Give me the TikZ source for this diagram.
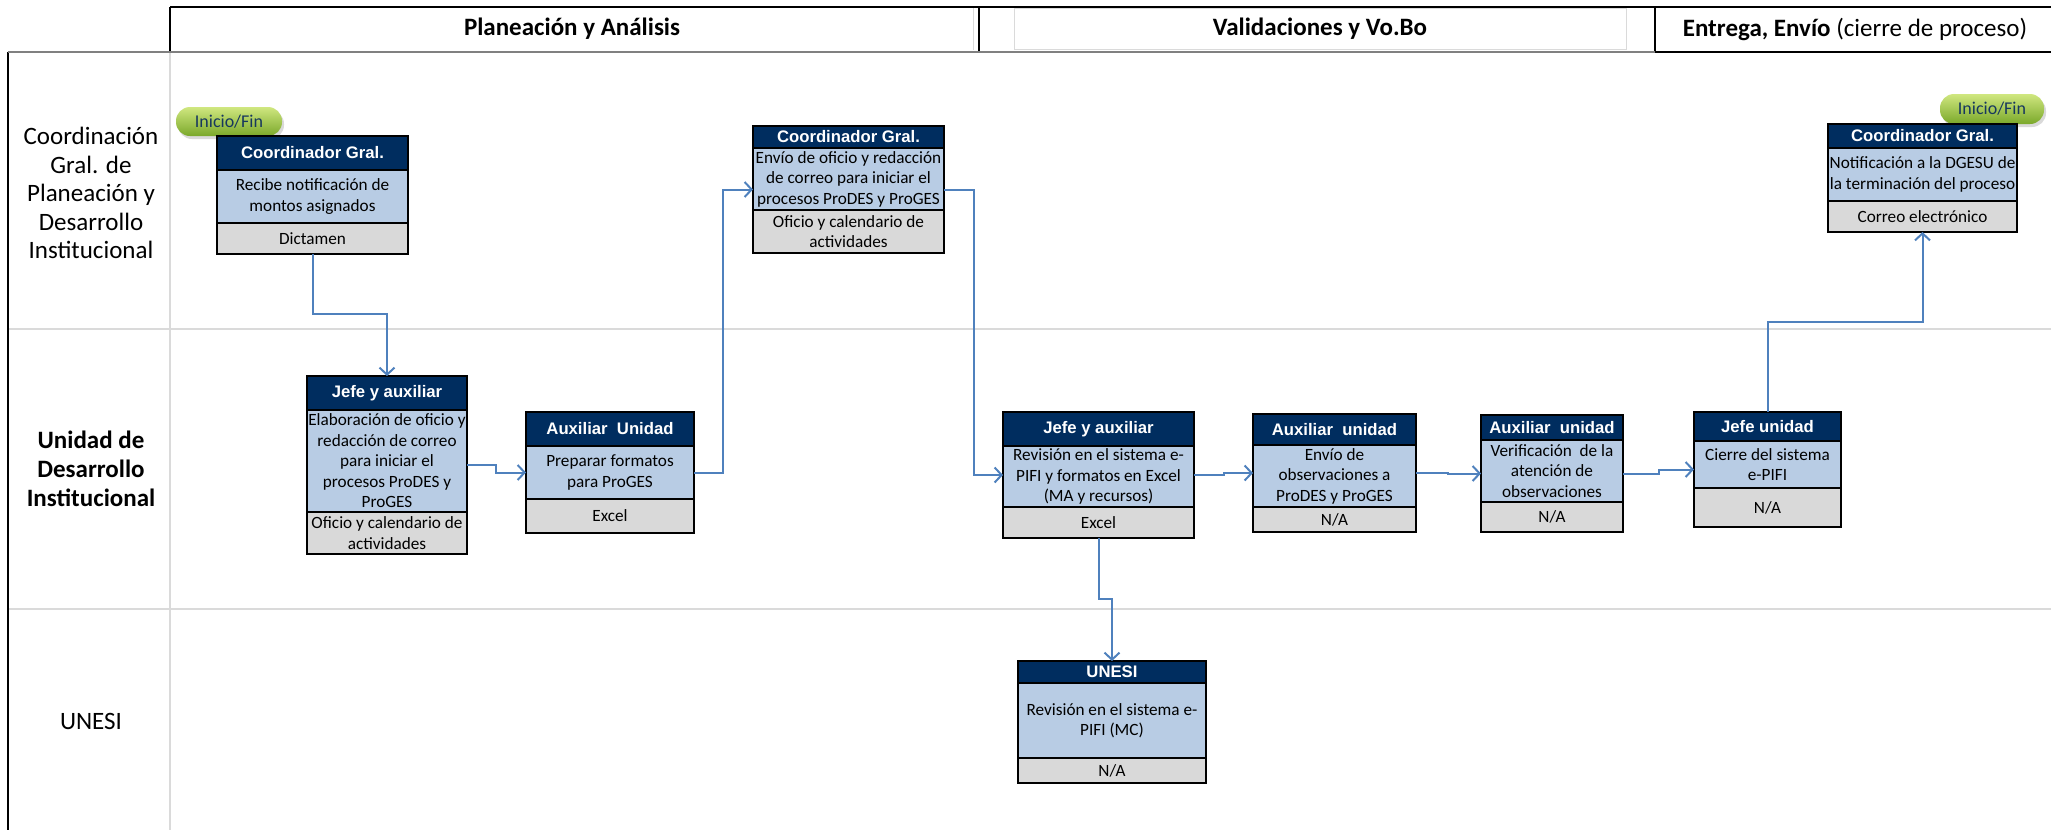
\documentclass[tikz,border=0pt]{standalone}
\usepackage{fontspec}
\setmainfont{Carlito}
\newfontfamily\arialfont{Liberation Sans}
\usepackage{xcolor}
\usepackage{tikz}
\usetikzlibrary{arrows.meta, positioning, fit, shadows}
\definecolor{headblue}{RGB}{0, 45, 95}
\definecolor{bodyblue}{RGB}{184, 204, 228}
\definecolor{footgray}{RGB}{217, 217, 217}
\definecolor{linkblue}{RGB}{79, 129, 189}
\definecolor{lanegray}{RGB}{218, 218, 218}
\definecolor{rulegray}{RGB}{128, 128, 128}
\definecolor{pilllight}{RGB}{208, 231, 128}
\definecolor{pillgreen}{RGB}{122, 168, 42}
\definecolor{pilltext}{RGB}{23, 55, 94}

\begin{document}
\begin{tikzpicture}[
    x=1pt, y=-1pt,
    boxhead/.style={draw, line width=2pt, fill=headblue, text=white, font=\arialfont\bfseries\fontsize{16.7}{20}\selectfont, inner sep=0pt, outer sep=0pt, anchor=north west},
    boxbody/.style={draw, line width=2pt, fill=bodyblue, font=\fontsize{17.2}{20.5}\selectfont, align=center, inner sep=0pt, outer sep=0pt},
    boxfoot/.style={boxbody, fill=footgray},
    boxall/.style={inner sep=0pt, outer sep=0pt},
    lane/.style={font=\fontsize{25}{28.5}\selectfont, align=center},
    phase/.style={font=\bfseries\fontsize{25}{30}\selectfont},
    pill/.style={rounded corners=14pt, minimum width=106pt, minimum height=29pt, top color=pilllight, bottom color=pillgreen, text=pilltext, font=\fontsize{18}{20}\selectfont, drop shadow={shadow xshift=2pt, shadow yshift=-3pt, opacity=0.3}},
    arrow/.style={-{Straight Barb[length=7pt, width=15pt]}, line width=2pt, linkblue}
]
    \useasboundingbox (0,0) rectangle (2051,830);

    % Lanes
    \draw[lanegray, line width=2.5pt] (8,329) -- (2051,329);
    \draw[lanegray, line width=2.5pt] (8,609) -- (2051,609);
    \draw[lanegray, line width=2pt] (170,52) -- (170,830);
    \draw[line width=1.5pt] (8,52) -- (8,830);

    % Header
    \draw[lanegray] (973,8) -- (973,50);
    \draw[lanegray] (1014,8) rectangle (1626,49);
    \draw[line width=2.5pt] (170,7) -- (2051,7);
    \draw[line width=2pt] (170,7) -- (170,52);
    \draw[line width=2pt] (979,7) -- (979,52);
    \draw[line width=2pt] (1655,7) -- (1655,52);
    \draw[rulegray, line width=2.5pt] (8,52) -- (1655,52);
    \draw[line width=2.5pt] (1655,52) -- (2051,52);
    \node[phase] (plan) at (572,29) {Planeación y Análisis};
    \node[phase] (valida) at (1320,29) {Validaciones y Vo.Bo};
    \node[phase] (entrega) at (1855,29) {Entrega, Envío \mdseries(cierre de proceso)};

    % Lane labels
    \node[lane] (coordlane) at (91,193) {Coordinación\\Gral. de\\Planeación y\\Desarrollo\\Institucional};
    \node[lane, font=\bfseries\fontsize{25}{29}\selectfont] (unidadlane) at (91,469) {Unidad de\\Desarrollo\\Institucional};
    \node[lane] (unesilane) at (91,721) {UNESI};

    % Start / end
    \node[pill] (inicio) at (229,121.5) {Inicio/Fin};
    \node[pill, minimum width=104pt, minimum height=30pt] (fin) at (1992,109) {Inicio/Fin};

    % Nodes - top lane
    \node[boxhead, minimum width=191, minimum height=34] (recibe-h) at (217,136) {Coordinador Gral.};
    \node[boxbody, minimum width=191, minimum height=53, below=0pt of recibe-h] (recibe-b) {Recibe notificación de\\montos asignados};
    \node[boxfoot, minimum width=191, minimum height=31, below=0pt of recibe-b] (recibe-f) {Dictamen};
    \node[boxall, fit=(recibe-h)(recibe-f)] (recibe) {};

    \node[boxhead, minimum width=191, minimum height=22] (envio-h) at (753,126) {Coordinador Gral.};
    \node[boxbody, minimum width=191, minimum height=62, below=0pt of envio-h] (envio-b) {Envío de oficio y redacción\\de correo para iniciar el\\procesos ProDES y ProGES};
    \node[boxfoot, minimum width=191, minimum height=43, below=0pt of envio-b] (envio-f) {Oficio y calendario de\\actividades};
    \node[boxall, fit=(envio-h)(envio-f)] (envio) {};

    \node[boxhead, minimum width=189, minimum height=24] (notifica-h) at (1828,124) {Coordinador Gral.};
    \node[boxbody, minimum width=189, minimum height=53, below=0pt of notifica-h] (notifica-b) {Notificación a la DGESU de\\la terminación del proceso};
    \node[boxfoot, minimum width=189, minimum height=31, below=0pt of notifica-b] (notifica-f) {Correo electrónico};
    \node[boxall, fit=(notifica-h)(notifica-f)] (notifica) {};

    % Nodes - middle lane
    \node[boxhead, minimum width=160, minimum height=34] (elabora-h) at (307,376) {Jefe y auxiliar};
    \node[boxbody, minimum width=160, minimum height=102, below=0pt of elabora-h] (elabora-b) {Elaboración de oficio y\\redacción de correo\\para iniciar el\\procesos ProDES y\\ProGES};
    \node[boxfoot, minimum width=160, minimum height=42, below=0pt of elabora-b] (elabora-f) {Oficio y calendario de\\actividades};
    \node[boxall, fit=(elabora-h)(elabora-f)] (elabora) {};

    \node[boxhead, minimum width=168, minimum height=34] (prepara-h) at (526,412) {Auxiliar\ \ Unidad};
    \node[boxbody, minimum width=168, minimum height=53, below=0pt of prepara-h] (prepara-b) {Preparar formatos\\para ProGES};
    \node[boxfoot, minimum width=168, minimum height=34, below=0pt of prepara-b] (prepara-f) {Excel};
    \node[boxall, fit=(prepara-h)(prepara-f)] (prepara) {};

    \node[boxhead, minimum width=191, minimum height=34] (revisa-h) at (1003,412) {Jefe y auxiliar};
    \node[boxbody, minimum width=191, minimum height=61, below=0pt of revisa-h] (revisa-b) {Revisión en el sistema e-\\PIFI y formatos en Excel\\(MA y recursos)};
    \node[boxfoot, minimum width=191, minimum height=31, below=0pt of revisa-b] (revisa-f) {Excel};
    \node[boxall, fit=(revisa-h)(revisa-f)] (revisa) {};

    \node[boxhead, minimum width=163, minimum height=31] (observa-h) at (1253,414) {Auxiliar\ \ unidad};
    \node[boxbody, minimum width=163, minimum height=62, below=0pt of observa-h] (observa-b) {Envío de\\observaciones a\\ProDES y ProGES};
    \node[boxfoot, minimum width=163, minimum height=25, below=0pt of observa-b] (observa-f) {N/A};
    \node[boxall, fit=(observa-h)(observa-f)] (observa) {};

    \node[boxhead, minimum width=142, minimum height=25] (verifica-h) at (1481,415) {Auxiliar\ \ unidad};
    \node[boxbody, minimum width=142, minimum height=62, below=0pt of verifica-h] (verifica-b) {Verificación\ \ de la\\atención de\\observaciones};
    \node[boxfoot, minimum width=142, minimum height=30, below=0pt of verifica-b] (verifica-f) {N/A};
    \node[boxall, fit=(verifica-h)(verifica-f)] (verifica) {};

    \node[boxhead, minimum width=147, minimum height=29] (cierre-h) at (1694,412) {Jefe unidad};
    \node[boxbody, minimum width=147, minimum height=47, below=0pt of cierre-h] (cierre-b) {Cierre del sistema\\e-PIFI};
    \node[boxfoot, minimum width=147, minimum height=39, below=0pt of cierre-b] (cierre-f) {N/A};
    \node[boxall, fit=(cierre-h)(cierre-f)] (cierre) {};

    % Nodes - bottom lane
    \node[boxhead, minimum width=188, minimum height=22] (unesi-h) at (1018,661) {UNESI};
    \node[boxbody, minimum width=188, minimum height=75, below=0pt of unesi-h] (unesi-b) {Revisión en el sistema e-\\PIFI (MC)};
    \node[boxfoot, minimum width=188, minimum height=25, below=0pt of unesi-b] (unesi-f) {N/A};
    \node[boxall, fit=(unesi-h)(unesi-f)] (unesi) {};

    % Arrows
    \draw[arrow] (recibe.south) -- ++(0,60) -| (elabora.north);
    \draw[arrow] (elabora.east) -- ++(29,0) |- (prepara.west);
    \draw[arrow] (prepara.east) -- ++(29,0) |- (envio.west);
    \draw[arrow] (envio.east) -- ++(30,0) |- (revisa.west);
    \draw[arrow] (revisa.east) -- ++(30,0) |- (observa.west);
    \draw[arrow] (observa.east) -- ++(32,0) |- (verifica.west);
    \draw[arrow] (verifica.east) -- ++(36,0) |- (cierre.west);
    \draw[arrow] (cierre.north) -- ++(0,-90) -| (notifica.south);
    \draw[arrow] (revisa.south) -- ++(0,61) -| (unesi.north);
\end{tikzpicture}
\end{document}
